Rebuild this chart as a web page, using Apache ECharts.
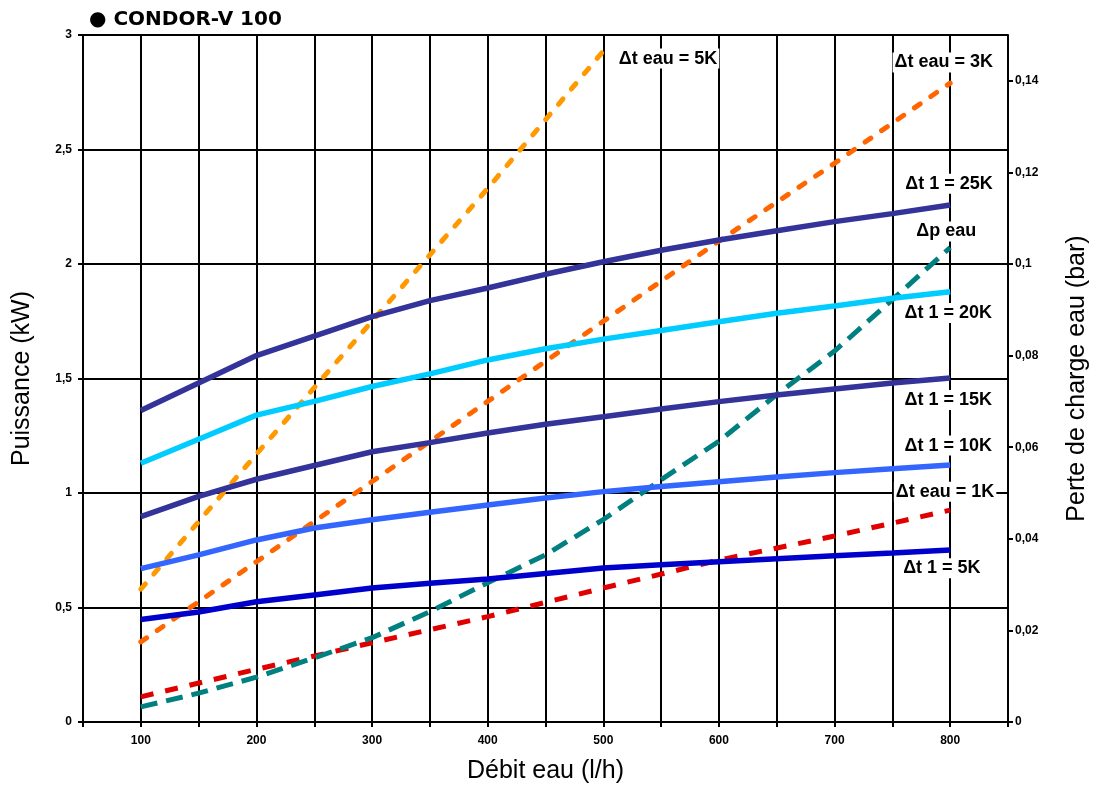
<!DOCTYPE html>
<html>
<head>
<meta charset="utf-8">
<script src="https://cdn.jsdelivr.net/npm/echarts@6/dist/echarts.min.js"></script>
<style>
html,body{margin:0;padding:0;background:#fff;}
#chart{width:1099px;height:787px;}
</style>
</head>
<body>
<div id="chart"></div>
<script>
// Débit eau (l/h)
const flow = [100,150,200,250,300,350,400,450,500,550,600,650,700,750,800];
// Puissance (kW) for Δt 1 curves
const p25 = [1.36,1.48,1.60,1.685,1.77,1.84,1.895,1.955,2.01,2.06,2.105,2.145,2.185,2.22,2.258];
const p20 = [1.13,1.235,1.34,1.40,1.465,1.52,1.581,1.63,1.672,1.71,1.748,1.785,1.817,1.85,1.879];
const p15 = [0.897,0.985,1.06,1.12,1.18,1.22,1.262,1.30,1.333,1.367,1.399,1.428,1.454,1.48,1.502];
const p10 = [0.67,0.73,0.795,0.847,0.883,0.916,0.948,0.978,1.006,1.028,1.049,1.07,1.089,1.106,1.122];
const p5  = [0.448,0.48,0.525,0.555,0.585,0.606,0.624,0.648,0.672,0.687,0.70,0.713,0.726,0.738,0.751];
// Δt eau lines (kW)
const flowEau5 = [100,200,300,400,500];
const eau5 = [0.58,1.17,1.75,2.33,2.93];
const flowEau = [100,200,300,400,500,600,700,800];
const eau3 = [0.35,0.70,1.05,1.40,1.75,2.10,2.44,2.79];
const eau1 = [0.11,0.23,0.346,0.46,0.585,0.707,0.812,0.925];
// Δp eau (bar), right axis
const dp = [0.0033,0.0063,0.0098,0.014,0.0184,0.0241,0.0304,0.0365,0.0442,0.0529,0.0613,0.0715,0.081,0.0922,0.1036];
// annotation labels (data coordinates of label centres)
const labelNames = ['Δt eau = 5K','Δt eau = 3K','Δt 1 = 25K','Δp eau','Δt 1 = 20K','Δt 1 = 15K','Δt 1 = 10K','Δt eau = 1K','Δt 1 = 5K'];
const labelX = [556,794.5,799,796.6,798.4,798.4,798.4,795.6,792.8];
const labelY = [2.897,2.88,2.35,2.142,1.786,1.406,1.207,1.006,0.671];
// axis tick values
const rightTicks = [0,0.02,0.04,0.06,0.08,0.1,0.12,0.14];

const zip = (xs, ys) => xs.map((x, i) => [x, ys[i]]);
const fmt = v => String(+v.toFixed(3)).replace('.', ',');

const tickLabel = {color:'#000', fontFamily:'Liberation Sans', fontWeight:'bold', fontSize:12};
const nameStyle = {color:'#000', fontFamily:'Liberation Sans', fontSize:25};

function solid(name, data, color) {
  return {type:'line', name, data: zip(flow, data), showSymbol:false, symbol:'none',
    lineStyle:{color, width:5.5}, z:3, silent:true};
}
function dashed(name, xs, data, color, dash, cap, yIdx) {
  return {type:'line', name, data: zip(xs, data), showSymbol:false, symbol:'none', yAxisIndex: yIdx || 0,
    lineStyle:{color, width:5, type: dash, cap: cap || 'butt'}, z:3, silent:true};
}

const chart = echarts.init(document.getElementById('chart'));
chart.setOption({
  animation:false,
  backgroundColor:'#fff',
  title:{text:'● CONDOR-V 100', left:84, top:5,
    textStyle:{color:'#000', fontFamily:'DejaVu Sans', fontWeight:'bold', fontSize:20}},
  grid:{left:83, right:91, top:35, bottom:65, outerBoundsMode:'none', containLabel:false},
  xAxis:{type:'value', min:50, max:850, interval:50,
    name:'Débit eau (l/h)', nameLocation:'middle', nameGap:37, nameTextStyle:nameStyle,
    axisLine:{show:true, lineStyle:{color:'#000', width:2}},
    axisTick:{show:true, length:5, lineStyle:{color:'#000', width:2}},
    axisLabel:{...tickLabel, margin:13, formatter: v => (v % 100 === 0 && v >= 100 && v <= 800) ? String(v) : ''},
    splitLine:{show:true, lineStyle:{color:'#000', width:2}}},
  yAxis:[
    {type:'value', min:0, max:3, interval:0.5, position:'left',
      name:'Puissance (kW)', nameLocation:'middle', nameGap:48, nameTextStyle:nameStyle,
      axisLine:{show:true, lineStyle:{color:'#000', width:2}},
      axisTick:{show:true, length:5, lineStyle:{color:'#000', width:2}},
      axisLabel:{...tickLabel, margin:11, formatter: fmt},
      splitLine:{show:true, lineStyle:{color:'#000', width:2}}},
    {type:'value', min:0, max:0.15, position:'right',
      name:'Perte de charge eau (bar)', nameLocation:'middle', nameGap:57, nameTextStyle:nameStyle,
      axisLine:{show:true, lineStyle:{color:'#000', width:2}},
      axisTick:{show:true, length:5, customValues: rightTicks, lineStyle:{color:'#000', width:2}},
      axisLabel:{...tickLabel, margin:7, customValues: rightTicks, formatter: fmt},
      splitLine:{show:false}}
  ],
  series:[
    dashed('Δt eau = 5K', flowEau5, eau5, '#FF9900', [7,13], 'round'),
    dashed('Δt eau = 3K', flowEau, eau3, '#FF6600', [7,13], 'round'),
    dashed('Δt eau = 1K', flowEau, eau1, '#E00000', [13,12]),
    dashed('Δp eau', flow, dp, '#008080', [17,9], 'butt', 1),
    solid('Δt 1 = 25K', p25, '#333399'),
    solid('Δt 1 = 20K', p20, '#00CCFF'),
    solid('Δt 1 = 15K', p15, '#333399'),
    solid('Δt 1 = 10K', p10, '#3366FF'),
    solid('Δt 1 = 5K', p5, '#0000CC'),
    {type:'scatter', name:'labels', symbolSize:0, z:5, silent:true,
      itemStyle:{opacity:1},
      data: labelNames.map((n, i) => ({name:n, value:[labelX[i], labelY[i]]})),
      label:{show:true, position:'inside', formatter: p => p.name, opacity:1,
        color:'#000', fontFamily:'Liberation Sans', fontWeight:'bold', fontSize:18,
        textBorderWidth:0, backgroundColor:'#fff', padding:[1,2]}}
  ]
});
</script>
</body>
</html>
